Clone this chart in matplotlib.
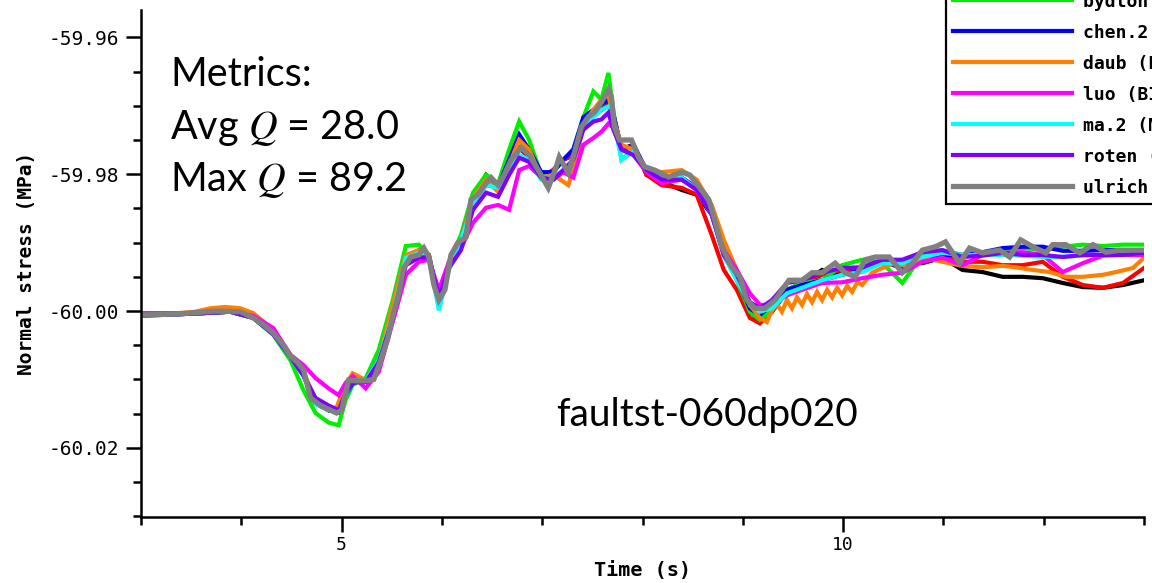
import matplotlib
matplotlib.use("Agg")
import matplotlib.pyplot as plt
from matplotlib.ticker import MultipleLocator, FixedLocator, FormatStrFormatter

# common time samples (s) for most models
t_grid = [3.00, 3.49, 3.89, 4.12, 4.32, 4.49, 4.62, 4.74, 4.87, 4.97,
          5.04, 5.11, 5.24, 5.37, 5.51, 5.64, 5.77, 5.87, 5.97, 6.07,
          6.19, 6.31, 6.44, 6.56, 6.67, 6.77, 6.87, 6.99, 7.11, 7.21,
          7.31, 7.41, 7.51, 7.59, 7.66, 7.71, 7.79, 7.91, 8.04, 8.19,
          8.39, 8.54, 8.69, 8.81, 8.94, 9.07, 9.17, 9.29, 9.44, 9.59,
          9.79, 9.99, 10.19, 10.39, 10.59, 10.79, 10.99, 11.19, 11.39, 11.59,
          11.79, 11.99, 12.19, 12.39, 12.59, 12.79, 13.00]

# normal stress (MPa)
abrahams = [-60.0006, -60.0004, -60.0001, -60.0010, -60.0034, -60.0067, -60.0094, -60.0135, -60.0145, -60.0148,
            -60.0120, -60.0102, -60.0102, -60.0075, -60.0001, -59.9922, -59.9914, -59.9922, -59.9984, -59.9937,
            -59.9896, -59.9837, -59.9801, -59.9817, -59.9786, -59.9761, -59.9776, -59.9805, -59.9794, -59.9779,
            -59.9772, -59.9728, -59.9713, -59.9706, -59.9698, -59.9713, -59.9764, -59.9757, -59.9801, -59.9811,
            -59.9823, -59.9830, -59.9859, -59.9911, -59.9952, -59.9999, -60.0016, -60.0001, -59.9969, -59.9959,
            -59.9940, -59.9947, -59.9937, -59.9928, -59.9928, -59.9930, -59.9922, -59.9940, -59.9943, -59.9950,
            -59.9950, -59.9952, -59.9959, -59.9965, -59.9966, -59.9962, -59.9955]

barall = [-60.0006, -60.0004, -60.0001, -60.0010, -60.0034, -60.0067, -60.0094, -60.0135, -60.0145, -60.0148,
          -60.0120, -60.0102, -60.0102, -60.0075, -60.0001, -59.9922, -59.9914, -59.9922, -59.9984, -59.9937,
          -59.9896, -59.9837, -59.9813, -59.9817, -59.9786, -59.9761, -59.9776, -59.9805, -59.9794, -59.9779,
          -59.9772, -59.9728, -59.9713, -59.9706, -59.9698, -59.9713, -59.9764, -59.9757, -59.9801, -59.9816,
          -59.9820, -59.9830, -59.9889, -59.9940, -59.9969, -60.0010, -60.0018, -60.0001, -59.9972, -59.9962,
          -59.9947, -59.9940, -59.9937, -59.9930, -59.9928, -59.9922, -59.9918, -59.9928, -59.9928, -59.9933,
          -59.9933, -59.9928, -59.9950, -59.9962, -59.9966, -59.9959, -59.9937]

bydlon = [-60.0006, -60.0004, -60.0000, -60.0010, -60.0035, -60.0072, -60.0116, -60.0149, -60.0163, -60.0167,
          -60.0130, -60.0108, -60.0098, -60.0057, -59.9984, -59.9905, -59.9903, -59.9918, -59.9994, -59.9928,
          -59.9889, -59.9827, -59.9801, -59.9814, -59.9764, -59.9723, -59.9750, -59.9801, -59.9797, -59.9779,
          -59.9764, -59.9717, -59.9679, -59.9691, -59.9652, -59.9709, -59.9779, -59.9764, -59.9794, -59.9804,
          -59.9805, -59.9820, -59.9855, -59.9918, -59.9955, -60.0001, -60.0013, -59.9999, -59.9969, -59.9959,
          -59.9955, -59.9933, -59.9925, -59.9930, -59.9959, -59.9918, -59.9911, -59.9918, -59.9914, -59.9911,
          -59.9908, -59.9911, -59.9906, -59.9903, -59.9905, -59.9903, -59.9903]

chen2 = [-60.0007, -60.0004, -60.0001, -60.0010, -60.0034, -60.0067, -60.0094, -60.0135, -60.0145, -60.0148,
         -60.0123, -60.0105, -60.0101, -60.0072, -59.9999, -59.9922, -59.9911, -59.9918, -59.9984, -59.9937,
         -59.9896, -59.9837, -59.9816, -59.9818, -59.9779, -59.9742, -59.9764, -59.9797, -59.9797, -59.9779,
         -59.9764, -59.9717, -59.9706, -59.9698, -59.9691, -59.9713, -59.9764, -59.9757, -59.9794, -59.9808,
         -59.9805, -59.9820, -59.9859, -59.9918, -59.9952, -59.9996, -60.0006, -59.9991, -59.9969, -59.9962,
         -59.9955, -59.9947, -59.9940, -59.9928, -59.9937, -59.9922, -59.9918, -59.9918, -59.9914, -59.9908,
         -59.9906, -59.9906, -59.9912, -59.9912, -59.9911, -59.9911, -59.9914]

luo = [-60.0003, -60.0003, -60.0000, -60.0007, -60.0025, -60.0064, -60.0079, -60.0098, -60.0113, -60.0123,
       -60.0105, -60.0095, -60.0113, -60.0089, -60.0016, -59.9947, -59.9928, -59.9925, -59.9969, -59.9928,
       -59.9908, -59.9871, -59.9849, -59.9845, -59.9852, -59.9794, -59.9788, -59.9805, -59.9808, -59.9797,
       -59.9805, -59.9757, -59.9747, -59.9738, -59.9726, -59.9732, -59.9764, -59.9772, -59.9797, -59.9813,
       -59.9808, -59.9818, -59.9859, -59.9911, -59.9940, -59.9974, -59.9991, -59.9991, -59.9977, -59.9969,
       -59.9959, -59.9958, -59.9952, -59.9947, -59.9944, -59.9928, -59.9922, -59.9933, -59.9918, -59.9915,
       -59.9914, -59.9918, -59.9943, -59.9930, -59.9919, -59.9918, -59.9918]

ma2 = [-60.0006, -60.0004, -60.0001, -60.0010, -60.0034, -60.0067, -60.0094, -60.0136, -60.0145, -60.0145,
       -60.0123, -60.0101, -60.0102, -60.0072, -60.0006, -59.9922, -59.9915, -59.9922, -59.9999, -59.9940,
       -59.9896, -59.9845, -59.9816, -59.9820, -59.9791, -59.9772, -59.9779, -59.9808, -59.9805, -59.9794,
       -59.9779, -59.9732, -59.9717, -59.9706, -59.9701, -59.9720, -59.9779, -59.9767, -59.9794, -59.9808,
       -59.9805, -59.9823, -59.9859, -59.9918, -59.9955, -59.9991, -60.0001, -59.9996, -59.9974, -59.9966,
       -59.9955, -59.9947, -59.9943, -59.9930, -59.9930, -59.9921, -59.9915, -59.9918, -59.9918, -59.9918,
       -59.9919, -59.9921, -59.9921, -59.9919, -59.9918, -59.9917, -59.9915]

roten = [-60.0006, -60.0004, -60.0001, -60.0010, -60.0034, -60.0067, -60.0094, -60.0127, -60.0138, -60.0145,
         -60.0120, -60.0104, -60.0104, -60.0075, -60.0010, -59.9933, -59.9922, -59.9921, -59.9980, -59.9937,
         -59.9911, -59.9852, -59.9827, -59.9833, -59.9801, -59.9776, -59.9782, -59.9805, -59.9808, -59.9794,
         -59.9779, -59.9735, -59.9723, -59.9720, -59.9710, -59.9735, -59.9764, -59.9772, -59.9794, -59.9808,
         -59.9808, -59.9823, -59.9859, -59.9918, -59.9947, -59.9987, -59.9996, -59.9984, -59.9959, -59.9955,
         -59.9944, -59.9937, -59.9936, -59.9925, -59.9925, -59.9914, -59.9911, -59.9921, -59.9919, -59.9915,
         -59.9918, -59.9918, -59.9921, -59.9918, -59.9918, -59.9918, -59.9915]

# daub has a finer sampling (saw-tooth after the trough)
t_daub = [3.00, 3.29, 3.54, 3.69, 3.84, 3.99, 4.12, 4.32, 4.49, 4.62,
          4.74, 4.87, 4.95, 5.02, 5.11, 5.24, 5.37, 5.51, 5.64, 5.77,
          5.87, 5.97, 6.07, 6.19, 6.31, 6.44, 6.56, 6.67, 6.77, 6.87,
          6.99, 7.11, 7.26, 7.34, 7.41, 7.51, 7.59, 7.66, 7.71, 7.79,
          7.91, 8.04, 8.19, 8.39, 8.54, 8.69, 8.81, 8.94, 9.07, 9.17,
          9.24, 9.29, 9.34, 9.39, 9.44, 9.49, 9.54, 9.59, 9.64, 9.69,
          9.74, 9.79, 9.84, 9.89, 9.94, 9.99, 10.04, 10.09, 10.14, 10.19,
          10.29, 10.39, 10.52, 10.66, 10.79, 10.99, 11.19, 11.39, 11.59, 11.72,
          11.89, 12.06, 12.22, 12.39, 12.59, 12.72, 12.89, 13.00]
daub = [-60.0006, -60.0004, -60.0001, -59.9996, -59.9994, -59.9996, -60.0003, -60.0028, -60.0064, -60.0089,
        -60.0130, -60.0142, -60.0141, -60.0113, -60.0091, -60.0101, -60.0072, -59.9991, -59.9918, -59.9911,
        -59.9918, -59.9987, -59.9933, -59.9896, -59.9835, -59.9808, -59.9826, -59.9786, -59.9750, -59.9764,
        -59.9805, -59.9801, -59.9816, -59.9779, -59.9728, -59.9706, -59.9691, -59.9684, -59.9720, -59.9757,
        -59.9764, -59.9794, -59.9797, -59.9794, -59.9808, -59.9845, -59.9896, -59.9940, -59.9991, -60.0010,
        -60.0016, -59.9999, -59.9990, -60.0001, -59.9984, -59.9996, -59.9980, -59.9991, -59.9975, -59.9987,
        -59.9972, -59.9984, -59.9969, -59.9980, -59.9966, -59.9977, -59.9963, -59.9972, -59.9958, -59.9962,
        -59.9944, -59.9937, -59.9930, -59.9936, -59.9922, -59.9928, -59.9934, -59.9936, -59.9934, -59.9936,
        -59.9940, -59.9943, -59.9950, -59.9950, -59.9947, -59.9943, -59.9937, -59.9922]

# ulrich (grey, drawn on top)
t_ulrich = [3.00, 3.39, 3.74, 3.99, 4.12, 4.22, 4.32, 4.42, 4.49, 4.56,
            4.62, 4.69, 4.79, 4.89, 4.95, 5.00, 5.07, 5.14, 5.24, 5.32,
            5.39, 5.46, 5.52, 5.56, 5.62, 5.69, 5.77, 5.82, 5.87, 5.92,
            5.97, 6.03, 6.09, 6.16, 6.24, 6.29, 6.36, 6.44, 6.49, 6.56,
            6.62, 6.69, 6.79, 6.87, 6.96, 7.06, 7.14, 7.17, 7.26, 7.32,
            7.39, 7.46, 7.52, 7.59, 7.66, 7.69, 7.72, 7.77, 7.89, 7.96,
            8.02, 8.12, 8.26, 8.39, 8.47, 8.56, 8.66, 8.72, 8.79, 8.89,
            8.97, 9.04, 9.12, 9.22, 9.32, 9.46, 9.59, 9.69, 9.79, 9.92,
            10.02, 10.12, 10.22, 10.32, 10.46, 10.59, 10.69, 10.79, 10.92, 11.02,
            11.16, 11.26, 11.39, 11.56, 11.66, 11.77, 11.89, 12.02, 12.09, 12.22,
            12.36, 12.49, 12.62, 12.76, 12.89, 13.00]
ulrich = [-60.0006, -60.0004, -60.0000, -60.0001, -60.0010, -60.0020, -60.0032, -60.0050, -60.0066, -60.0075,
          -60.0086, -60.0127, -60.0138, -60.0145, -60.0149, -60.0145, -60.0101, -60.0102, -60.0102, -60.0100,
          -60.0072, -60.0040, -60.0001, -59.9980, -59.9937, -59.9921, -59.9918, -59.9908, -59.9921, -59.9962,
          -59.9984, -59.9969, -59.9918, -59.9900, -59.9892, -59.9837, -59.9830, -59.9813, -59.9805, -59.9816,
          -59.9801, -59.9779, -59.9761, -59.9772, -59.9794, -59.9820, -59.9789, -59.9775, -59.9798, -59.9769,
          -59.9731, -59.9716, -59.9710, -59.9695, -59.9676, -59.9687, -59.9731, -59.9750, -59.9750, -59.9775,
          -59.9789, -59.9794, -59.9804, -59.9797, -59.9801, -59.9818, -59.9837, -59.9867, -59.9906, -59.9936,
          -59.9950, -59.9984, -59.9996, -59.9996, -59.9984, -59.9955, -59.9955, -59.9944, -59.9944, -59.9930,
          -59.9944, -59.9950, -59.9925, -59.9921, -59.9921, -59.9944, -59.9930, -59.9911, -59.9906, -59.9899,
          -59.9930, -59.9908, -59.9915, -59.9911, -59.9921, -59.9896, -59.9906, -59.9915, -59.9903, -59.9903,
          -59.9915, -59.9903, -59.9914, -59.9911, -59.9911, -59.9911]

labels = ["abrahams (FD)", "barall (FaultMod)", "bydlon (FDMAP)", "chen.2 (DG)",
          "daub (EQdyna)", "luo (BICyclE)", "ma.2 (MAFE)", "roten (AWP)", "ulrich (SeisSol)"]
colors = ["#000000", "#ff0000", "#00ee00", "#0000ff", "#ff8000",
          "#ff00ff", "#00ffff", "#8000ff", "#808080"]

plt.rcParams["axes.unicode_minus"] = False
plt.rcParams["mathtext.fontset"] = "stix"

fig = plt.figure(figsize=(11.52, 5.83), dpi=100)
ax = fig.add_axes([0.1224, 0.1132, 0.8707, 0.8697])

series = [(t_grid, abrahams), (t_grid, barall), (t_grid, bydlon), (t_grid, chen2),
          (t_daub, daub), (t_grid, luo), (t_grid, ma2), (t_grid, roten), (t_ulrich, ulrich)]
handles = []
for (tt, vv), lab, col in zip(series, labels, colors):
    lw = 3.8 if lab.startswith("ulrich") else 3.0
    h, = ax.plot(tt, vv, color=col, lw=lw, label=lab, solid_joinstyle="miter")
    handles.append(h)

ax.set_xlim(3, 13)
ax.set_ylim(-60.0301, -59.9560)

for s in ["top", "right"]:
    ax.spines[s].set_visible(False)
for s in ["left", "bottom"]:
    ax.spines[s].set_linewidth(1.8)

ax.xaxis.set_major_locator(FixedLocator([5, 10]))
ax.xaxis.set_minor_locator(MultipleLocator(1))
ax.yaxis.set_major_locator(MultipleLocator(0.02))
ax.yaxis.set_minor_locator(MultipleLocator(0.005))
ax.yaxis.set_major_formatter(FormatStrFormatter("%.2f"))
ax.tick_params(which="major", length=11, width=1.8, direction="out")
ax.tick_params(which="minor", length=6, width=1.8, direction="out")
ax.tick_params(axis="y", which="major", labelsize=14, pad=5)
ax.tick_params(axis="x", which="major", labelsize=13, pad=3)
for lbl in ax.get_xticklabels() + ax.get_yticklabels():
    lbl.set_fontfamily("DejaVu Sans Mono")

ax.set_xlabel("Time (s)", family="DejaVu Sans Mono", weight="bold", fontsize=14.5, labelpad=5)
ax.set_ylabel("Normal stress (MPa)", family="DejaVu Sans Mono", weight="bold", fontsize=14, labelpad=9)

# metrics text
txt_kw = dict(family="Lato", fontsize=28.5, color="black", va="baseline")
fig.text(170 / 1152, 1 - 86 / 583, "Metrics:", **txt_kw)
fig.text(170 / 1152, 1 - 138.5 / 583, "Avg $Q$ = 28.0", **txt_kw)
fig.text(170 / 1152, 1 - 191 / 583, "Max $Q$ = 89.2", **txt_kw)
fig.text(707 / 1152, 1 - 426 / 583, "faultst-060dp020", ha="center",
         family="Lato", fontsize=28, va="baseline")

# legend box sits partly above the figure, as in the reference
leg = fig.legend(handles=handles, loc="lower left", bbox_to_anchor=(946 / 1152, 1 - 204 / 583),
                 borderaxespad=0, frameon=True, fancybox=False, framealpha=1,
                 handlelength=6.6, handletextpad=0.6, labelspacing=0.72, borderpad=0.4,
                 prop={"family": "DejaVu Sans Mono", "weight": "bold", "size": 13})
leg.get_frame().set_edgecolor("black")
leg.get_frame().set_linewidth(1.6)

fig.savefig("out.png", dpi=100)
